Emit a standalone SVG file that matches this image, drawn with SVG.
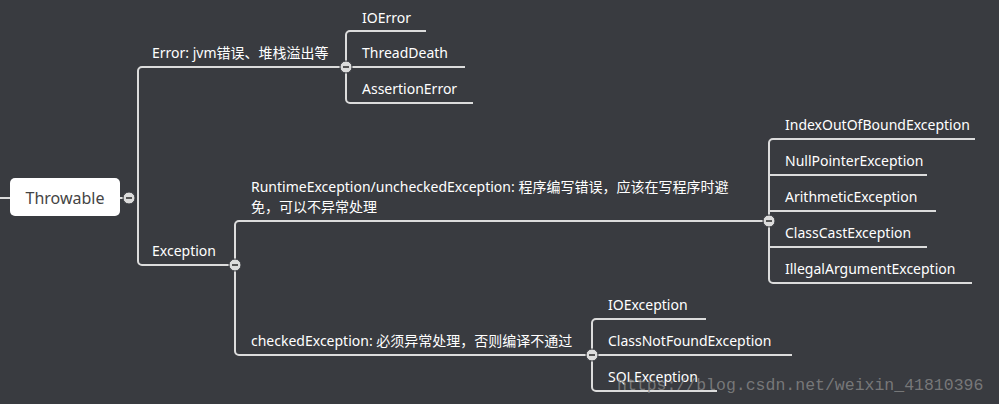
<svg xmlns="http://www.w3.org/2000/svg" width="999" height="404" viewBox="0 0 999 404">
<style>
.l{fill:none;stroke:#dcdcdc;stroke-width:2}
.t{fill:#fff;font-family:"Noto Sans","Noto Sans CJK SC",sans-serif;font-size:14px}
.c{fill:#dcdcdc;stroke:#393b40;stroke-width:1}
.m{stroke:#555;stroke-width:2}
</style>
<rect width="999" height="404" fill="#393b40"/>
<g id="connectors">
<path class="l" d="M0 198H10M120 198H129"/>
<path class="l" d="M346 67H142a4 4 0 0 0-4 4V261a4 4 0 0 0 4 4H235"/>
<path class="l" d="M426 31H350a4 4 0 0 0-4 4V99a4 4 0 0 0 4 4H473M346 67H465"/>
<path class="l" d="M769 221H239a4 4 0 0 0-4 4V351a4 4 0 0 0 4 4H592"/>
<path class="l" d="M975 139H773a4 4 0 0 0-4 4V279a4 4 0 0 0 4 4H972M769 175H927M769 211H936M769 247H927"/>
<path class="l" d="M706 319H596a4 4 0 0 0-4 4V387a4 4 0 0 0 4 4H717M592 355H792"/>
</g>
<g id="throwable">
<rect x="10" y="178" width="110" height="38" rx="5" fill="#fff"/>
<text x="65" y="204" text-anchor="middle" font-family="Noto Sans,sans-serif" font-size="16" fill="#444">Throwable</text>
<circle class="c" cx="129" cy="198" r="6"/><path class="m" d="M126 198h6"/>
</g>
<g id="error">
<text class="t" x="152" y="58">Error: jvm错误、堆栈溢出等</text>
<circle class="c" cx="346" cy="67" r="6"/><path class="m" d="M343 67h6"/>
</g>
<g id="ioerror"><text class="t" x="362" y="23">IOError</text></g>
<g id="threaddeath"><text class="t" x="362" y="58">ThreadDeath</text></g>
<g id="assertionerror"><text class="t" x="362" y="94">AssertionError</text></g>
<g id="exception">
<text class="t" x="152" y="256">Exception</text>
<circle class="c" cx="235" cy="265" r="6"/><path class="m" d="M232 265h6"/>
</g>
<g id="runtime">
<text class="t" x="251" y="192">RuntimeException/uncheckedException: 程序编写错误，应该在写程序时避</text>
<text class="t" x="251" y="212">免，可以不异常处理</text>
<circle class="c" cx="769" cy="221" r="6"/><path class="m" d="M766 221h6"/>
</g>
<g id="r1"><text class="t" x="785" y="130">IndexOutOfBoundException</text></g>
<g id="r2"><text class="t" x="785" y="166">NullPointerException</text></g>
<g id="r3"><text class="t" x="785" y="202">ArithmeticException</text></g>
<g id="r4"><text class="t" x="785" y="238">ClassCastException</text></g>
<g id="r5"><text class="t" x="785" y="274">IllegalArgumentException</text></g>
<g id="checked">
<text class="t" x="251" y="346">checkedException: 必须异常处理，否则编译不通过</text>
<circle class="c" cx="592" cy="355" r="6"/><path class="m" d="M589 355h6"/>
</g>
<g id="c1"><text class="t" x="608" y="310">IOException</text></g>
<g id="c2"><text class="t" x="608" y="346">ClassNotFoundException</text></g>
<g id="c3"><text class="t" x="608" y="382">SQLException</text></g>
<text x="617" y="390" font-family="Liberation Mono,monospace" font-size="16.5" fill="#888" fill-opacity="0.8">https://blog.csdn.net/weixin_41810396</text>
</svg>
